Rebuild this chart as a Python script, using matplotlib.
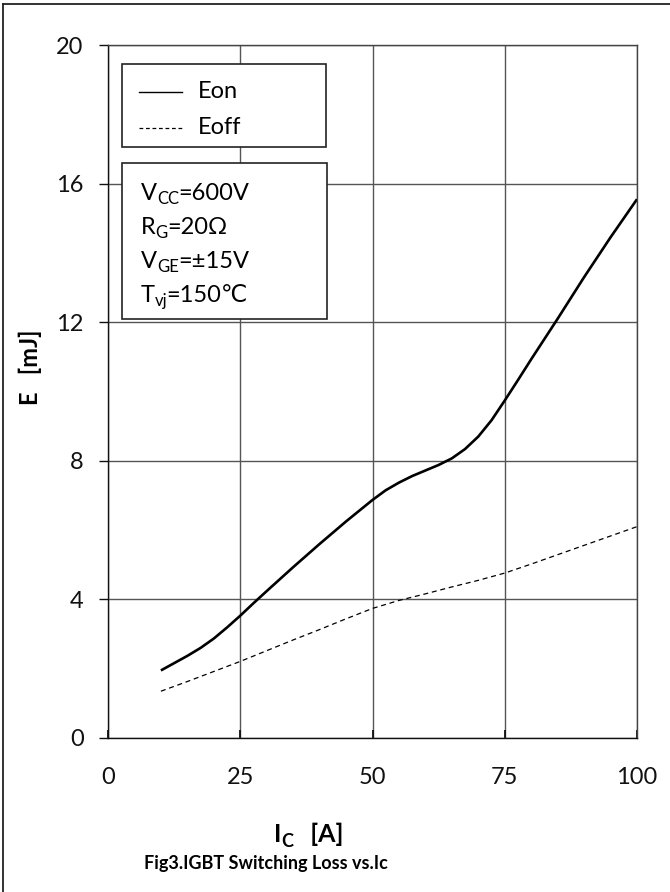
import matplotlib
matplotlib.use("Agg")
import matplotlib.pyplot as plt
from matplotlib.patches import Rectangle
from matplotlib.lines import Line2D

plt.rcParams['font.family'] = ['Lato', 'DejaVu Sans']

# Data
ic_on = [10, 12.5, 15, 17.5, 20, 22.5, 25, 27.5, 30, 35, 40, 45, 50, 52.5, 55, 57.5,
         60, 62.5, 65, 67.5, 70, 72.5, 75, 77.5, 80, 85, 90, 95, 100]
eon = [1.95, 2.16, 2.37, 2.6, 2.87, 3.19, 3.53, 3.89, 4.24, 4.93, 5.6, 6.25, 6.87, 7.15, 7.37, 7.56,
       7.72, 7.88, 8.07, 8.34, 8.7, 9.17, 9.74, 10.33, 10.93, 12.1, 13.3, 14.45, 15.55]
ic_off = [10, 15, 20, 25, 30, 35, 40, 45, 50, 55, 60, 65, 70, 75, 80, 85, 90, 95, 100]
eoff = [1.35, 1.63, 1.92, 2.21, 2.52, 2.83, 3.13, 3.44, 3.74, 3.97, 4.16, 4.36, 4.55, 4.76,
        5.02, 5.29, 5.56, 5.83, 6.1]
x_ticks = [0, 25, 50, 75, 100]
y_ticks = [0, 4, 8, 12, 16, 20]
series_labels = ["Eon", "Eoff"]
# condition lines as (text, is_subscript) pieces
cond_lines = [
    [("V", False), ("CC", True), ("=600V", False)],
    [("R", False), ("G", True), ("=20Ω", False)],
    [("V", False), ("GE", True), ("=±15V", False)],
    [("T", False), ("vj", True), ("=150℃", False)],
]

W, H = 670, 892
fig = plt.figure(figsize=(W / 100, H / 100), dpi=100)
renderer = fig.canvas.get_renderer()

def fx(px):
    return px / W

def fy(py):
    return 1 - py / H

def pieces_text(x_px, y_px, pieces, size, sub_size, sub_drop, weight='normal', zorder=6):
    x = x_px
    for txt, sub in pieces:
        t = fig.text(fx(x), fy(y_px + (sub_drop if sub else 0)), txt,
                     fontsize=sub_size if sub else size, fontweight=weight,
                     ha='left', va='baseline', zorder=zorder)
        bb = t.get_window_extent(renderer=renderer)
        x += bb.width - (1 if sub else 0)
    return x

# outer frame
fig.add_artist(Line2D([fx(3), fx(3)], [fy(4), 0], color='#222222', lw=1.3))
fig.add_artist(Line2D([fx(3), 1], [fy(4), fy(4)], color='#222222', lw=1.3))

L, R, T, B = 108, 637, 45, 738
ax = fig.add_axes([fx(L), fy(B), fx(R - L), fy(T) - fy(B)])

ax.plot(ic_on, eon, color='black', lw=1.9, solid_capstyle='butt')
ax.plot(ic_off, eoff, color='black', lw=0.9, dashes=(4, 3))

ax.set_xlim(0, 100)
ax.set_ylim(0, 20)
ax.set_xticks(x_ticks)
ax.set_yticks(y_ticks)
ax.grid(True, color='#555555', lw=1.0)
ax.set_axisbelow(True)
for s in ax.spines.values():
    s.set_color('#444444')
    s.set_linewidth(1.0)
ax.spines['bottom'].set_color('#111111')
ax.spines['left'].set_color('#111111')
ax.tick_params(axis='y', direction='out', length=6.5, width=1.0, pad=11, labelsize=17, colors='#111111')
ax.tick_params(axis='x', direction='in', length=6, width=1.3, pad=21, labelsize=17, colors='#111111')

def ay(py):
    return (B - py) / (B - T)

def axx(px):
    return (px - L) / (R - L)

# legend box
ax.add_patch(Rectangle((axx(122), ay(147)), axx(326) - axx(122), ay(64) - ay(147),
                       transform=ax.transAxes, facecolor='white', edgecolor='#222222',
                       lw=1.2, zorder=5))
ax.add_line(Line2D([axx(139), axx(182)], [ay(92), ay(92)], transform=ax.transAxes,
                   color='black', lw=1.0, zorder=6))
ax.add_line(Line2D([axx(139), axx(182)], [ay(128), ay(128)], transform=ax.transAxes,
                   color='black', lw=0.9, dashes=(3, 2.2), zorder=6))
ax.text(axx(198), ay(92), series_labels[0], transform=ax.transAxes, fontsize=17,
        va='center', ha='left', zorder=6)
ax.text(axx(198), ay(128), series_labels[1], transform=ax.transAxes, fontsize=17,
        va='center', ha='left', zorder=6)

# conditions box
ax.add_patch(Rectangle((axx(122), ay(319)), axx(327) - axx(122), ay(163) - ay(319),
                       transform=ax.transAxes, facecolor='white', edgecolor='#222222',
                       lw=1.2, zorder=5))
for i, pcs in enumerate(cond_lines):
    pieces_text(141, 200 + 34 * i, pcs, 17, 12, 4)

# axis labels
fig.text(fx(30), fy(367), "E   [mJ]", rotation=90, fontsize=17, fontweight='bold',
         ha='center', va='center')
pieces_text(274, 842, [("I", False), ("C", True), ("   [A]", False)], 18, 13, 5, weight='bold')
fig.text(fx(266), fy(864), "Fig3.IGBT Switching Loss vs.Ic", fontsize=13, fontweight='bold',
         family=['Liberation Sans Narrow', 'Lato'], ha='center', va='center')

fig.savefig("out.png", dpi=100)
